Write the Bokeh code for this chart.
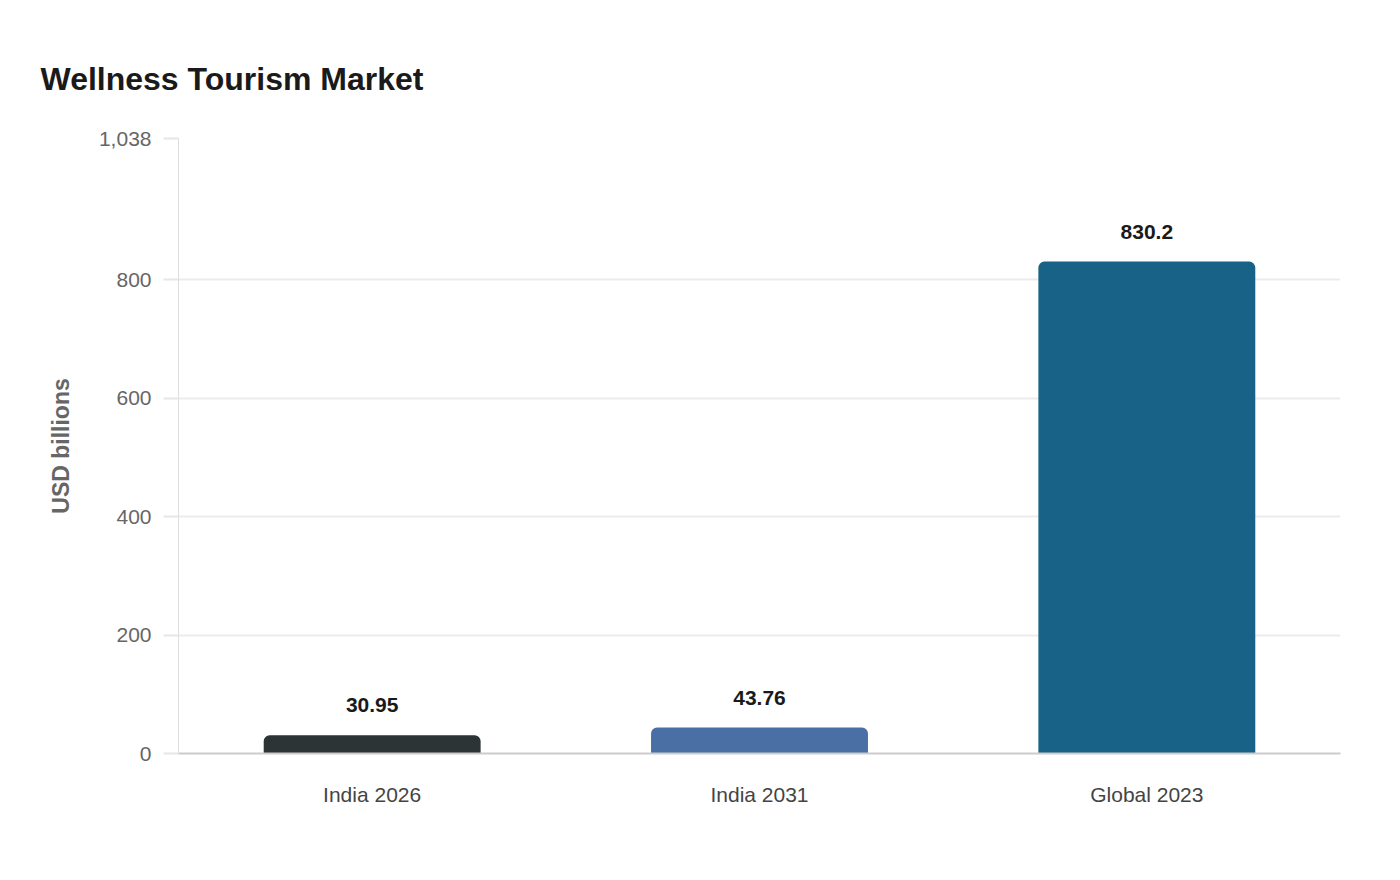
from bokeh.plotting import figure
from bokeh.models import ColumnDataSource, FixedTicker, Range1d, Title, LabelSet
from bokeh.core.properties import value
from bokeh.embed import file_html
from bokeh.resources import INLINE

categories = ["India 2026", "India 2031", "Global 2023"]
values = [30.95, 43.76, 830.2]
labels = ["30.95", "43.76", "830.2"]
colors = ["#2d3436", "#4a6fa5", "#186187"]
y_ticks = [0, 200, 400, 600, 800, 1038]
y_max = 1038

FONT = "Liberation Sans"

src = ColumnDataSource(data=dict(cat=categories, val=values, lab=labels, color=colors))

p = figure(x_range=categories, y_range=Range1d(0, y_max), width=1384, height=864,
           output_backend="svg", toolbar_location=None, title=None,
           min_border_left=178, min_border_right=44, min_border_top=138,
           min_border_bottom=111)
p.outline_line_color = None
p.background_fill_color = "white"
p.border_fill_color = "white"

title = Title(text="Wellness Tourism Market", align="left", offset=-138,
              text_font=FONT, text_font_size="32px", text_font_style="bold",
              text_color="#1a1a1a", standoff=84)
p.add_layout(title, "above")

p.vbar(x="cat", top="val", width=0.56, fill_color="color", line_color=None,
       border_radius=(6, 6, 0, 0), source=src)

p.add_layout(LabelSet(x="cat", y="val", text="lab", source=src, y_offset=23,
                      text_align="center", text_baseline="bottom",
                      text_font=value(FONT), text_font_size="21px",
                      text_font_style="bold", text_color="#1a1a1a"))

p.yaxis.ticker = FixedTicker(ticks=y_ticks)
p.yaxis.major_label_overrides = {1038: "1,038"}
p.yaxis.axis_label = "USD billions"
p.yaxis.axis_label_text_font = FONT
p.yaxis.axis_label_text_font_size = "23px"
p.yaxis.axis_label_text_font_style = "bold"
p.yaxis.axis_label_text_color = "#666666"
p.yaxis.axis_label_standoff = 22
p.yaxis.major_label_text_font = FONT
p.yaxis.major_label_text_font_size = "21px"
p.yaxis.major_label_text_color = "#666666"
p.yaxis.major_label_standoff = 12
p.yaxis.axis_line_color = "#dddddd"
p.yaxis.major_tick_line_color = "#e6e6e6"
p.yaxis.major_tick_line_width = 2
p.yaxis.major_tick_out = 15
p.yaxis.major_tick_in = 0
p.yaxis.minor_tick_line_color = None

p.xaxis.axis_line_color = "#cccccc"
p.xaxis.axis_line_width = 2
p.xaxis.major_tick_line_color = None
p.xaxis.minor_tick_line_color = None
p.xaxis.major_label_text_font = FONT
p.xaxis.major_label_text_font_size = "21px"
p.xaxis.major_label_text_color = "#444444"
p.xaxis.major_label_standoff = 23

p.xgrid.grid_line_color = None
p.ygrid.grid_line_color = "#ebebeb"
p.ygrid.grid_line_width = 2

open("out.html", "w").write(file_html(p, INLINE))
